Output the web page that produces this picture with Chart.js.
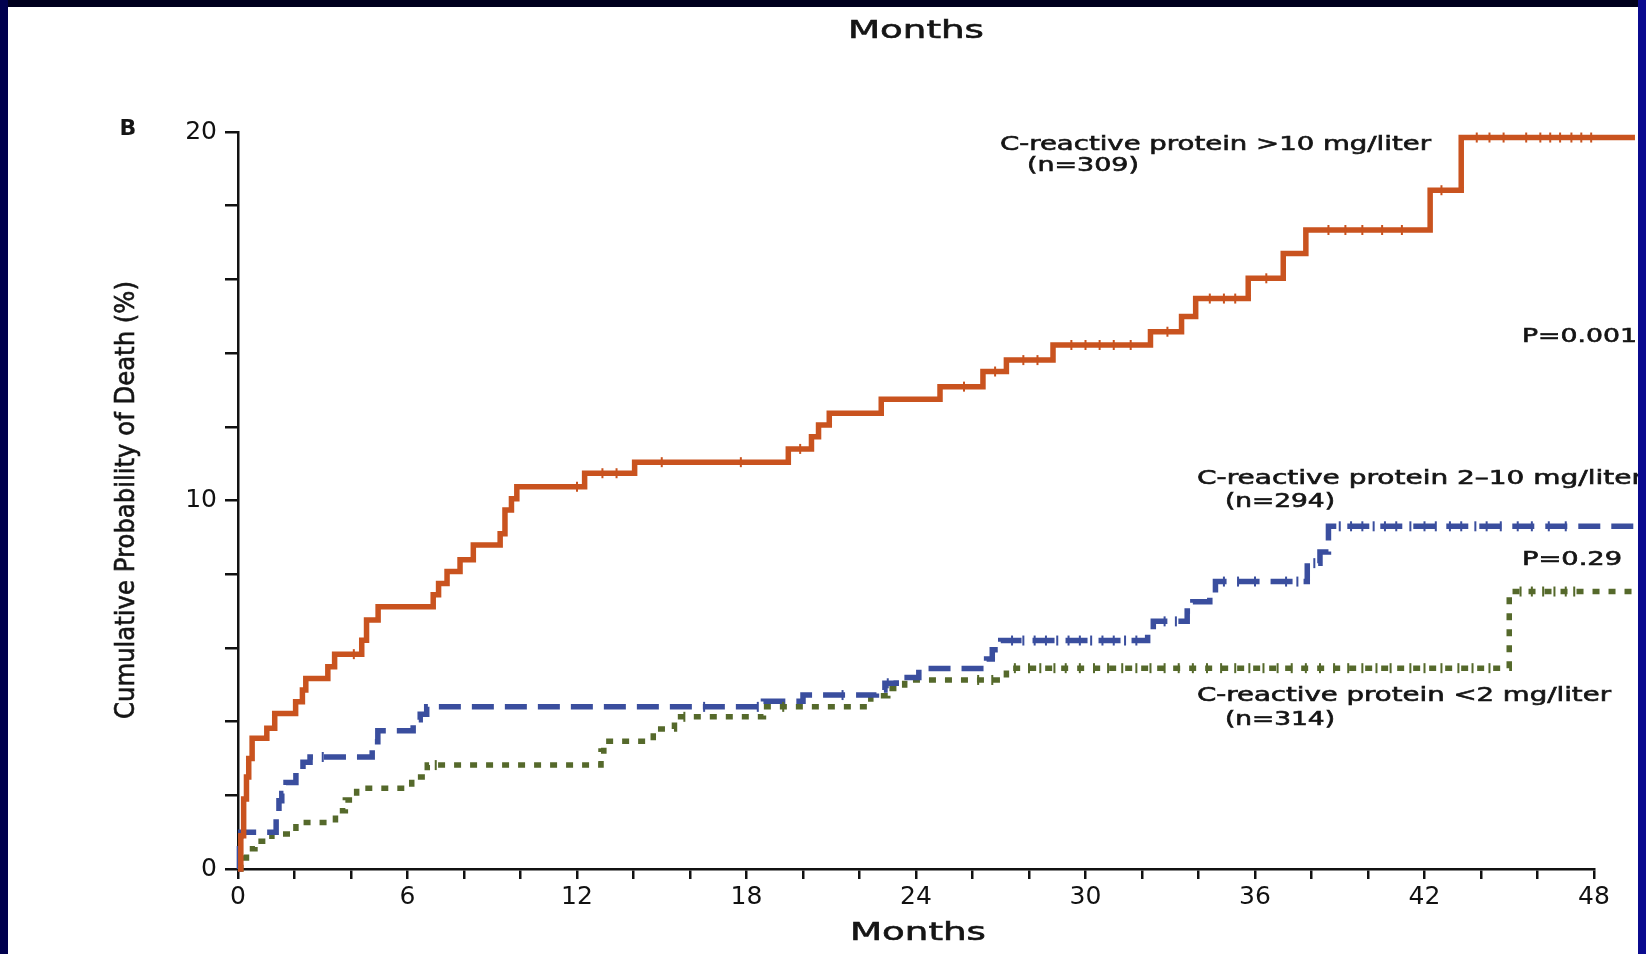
<!DOCTYPE html>
<html>
<head>
<meta charset="utf-8">
<script src="https://cdn.jsdelivr.net/npm/chart.js@4.4.1/dist/chart.umd.min.js"></script>
<style>
  html, body { margin: 0; padding: 0; background: #000040; overflow: hidden; }
  #wrap { position: relative; width: 1646px; height: 954px; }
</style>
</head>
<body>
<div id="wrap"><canvas id="myChart"></canvas></div>
<script>
// CRP > 10 mg/liter (n=309)
const highMonths = [0, 0.1, 0.2, 0.3, 0.38, 0.5, 1.02, 1.3, 2.04, 2.28, 2.4, 3.18, 3.42, 4.38, 4.55, 4.96,
  6.91, 7.1, 7.4, 7.86, 8.33, 9.28, 9.45, 9.68, 9.87, 12.27, 14.04, 19.48, 20.3, 20.55, 20.93, 22.77,
  24.85, 26.37, 27.2, 28.85, 32.3, 33.4, 33.9, 35.76, 37.0, 37.8, 42.2, 43.3, 49.45];
const highRisk = [0, 0.9, 1.9, 2.5, 3.0, 3.55, 3.82, 4.22, 4.54, 4.86, 5.17, 5.49, 5.83, 6.21, 6.76, 7.12,
  7.44, 7.75, 8.07, 8.39, 8.79, 9.1, 9.74, 10.05, 10.37, 10.74, 11.04, 11.4, 11.73, 12.05, 12.37, 12.75,
  13.09, 13.5, 13.81, 14.22, 14.58, 14.99, 15.48, 16.03, 16.7, 17.34, 18.42, 19.85, 19.85];
const highCensored = [4.1, 12.0, 12.9, 13.4, 15.0, 17.8, 19.9, 25.7, 26.8, 27.8, 28.3, 29.5, 30.0, 30.5,
  31.0, 31.6, 32.9, 34.4, 34.9, 35.3, 36.4, 38.6, 39.2, 39.8, 40.5, 41.2, 42.6, 43.85, 44.3, 44.8, 45.6,
  46.1, 46.45, 46.8, 47.2, 47.55, 47.9];

// CRP 2-10 mg/liter (n=294)
const midMonths = [0, 0.05, 0.1, 1.35, 1.45, 1.55, 1.7, 2.05, 2.3, 2.55, 4.75, 4.95, 6.2, 6.45, 6.68,
  18.6, 20.0, 22.6, 22.9, 23.3, 24.1, 26.5, 26.7, 27.0, 32.2, 32.4, 33.6, 33.8, 34.4, 34.6, 37.85, 38.3,
  38.6, 49.4];
const midRisk = [0, 0.55, 1.0, 1.45, 1.85, 2.05, 2.35, 2.65, 2.9, 3.04, 3.45, 3.75, 4.05, 4.2, 4.4,
  4.55, 4.72, 4.86, 5.04, 5.2, 5.44, 5.7, 5.95, 6.2, 6.5, 6.72, 7.0, 7.25, 7.5, 7.8, 8.3, 8.6,
  9.3, 9.3];
const midCensored = [3.0, 16.5, 18.4, 21.4, 23.0, 27.4, 27.8, 28.2, 28.6, 29.0, 29.4, 29.8, 30.2, 30.6,
  31.0, 31.4, 31.8, 32.8, 33.2, 34.9, 35.4, 36.0, 37.1, 37.5, 38.1, 39.0, 39.4, 39.8, 40.2, 40.6, 41.0,
  41.5, 42.0, 42.4, 42.9, 43.3, 43.8, 44.2, 44.7, 45.3, 45.8, 46.4, 47.0];

// CRP < 2 mg/liter (n=314)
const lowMonths = [0, 0.1, 0.3, 0.6, 1.2, 2.05, 3.45, 3.8, 4.2, 6.15, 6.7, 12.85, 12.95, 14.7, 15.45,
  18.6, 22.4, 23.0, 23.6, 27.2, 45.0, 49.4];
const lowRisk = [0, 0.3, 0.55, 0.75, 0.95, 1.26, 1.58, 1.87, 2.19, 2.5, 2.82, 3.2, 3.47, 3.8, 4.13,
  4.4, 4.7, 4.9, 5.13, 5.45, 7.53, 7.53];
const lowCensored = [7.0, 15.8, 19.3, 26.2, 26.7, 27.5, 28.0, 28.4, 28.9, 29.3, 29.8, 30.3, 30.8, 31.3,
  31.8, 32.3, 32.8, 33.3, 33.8, 34.3, 34.8, 35.3, 35.8, 36.3, 36.8, 37.3, 37.8, 38.3, 38.8, 39.3, 39.8,
  40.3, 40.8, 41.5, 42.0, 42.6, 43.2, 43.7, 44.3, 45.4, 45.8, 46.2, 46.6, 47.0, 47.3];

const monthTicks = [0, 6, 12, 18, 24, 30, 36, 42, 48];
const riskTicks = [0, 10, 20];

const RED = '#c9531f';
const BLUE = '#3a4e9e';
const GREEN = '#55692b';

function toPoints(xs, ys) {
  return xs.map((x, i) => ({ x: x, y: ys[i] }));
}

// censored cases sit on the curve at their month
function onCurve(censored, xs, ys) {
  return censored.map(t => {
    let v = ys[0];
    for (let i = 0; i < xs.length; i++) {
      if (xs[i] <= t) v = ys[i];
    }
    return { x: t, y: v };
  });
}

function curve(label, xs, ys, color, dash) {
  return {
    label: label,
    data: toPoints(xs, ys),
    borderColor: color,
    borderWidth: 5.5,
    borderDash: dash,
    borderCapStyle: 'butt',
    stepped: 'before',
    pointRadius: 0,
    fill: false,
    clip: false
  };
}

function marks(label, censored, xs, ys, color) {
  return {
    label: label,
    data: onCurve(censored, xs, ys),
    showLine: false,
    pointStyle: 'line',
    rotation: 90,
    pointRadius: 5,
    pointBorderWidth: 2,
    pointBorderColor: color,
    pointBackgroundColor: color,
    clip: false
  };
}

const texts = [
  { text: 'B', x: 128, y: 129, size: 22, weight: 'bold', align: 'center' },
  { text: 'Months', x: 916, y: 31, size: 25, width: 136, align: 'center' },
  { text: 'Months', x: 918, y: 933, size: 25, width: 136, align: 'center' },
  { text: 'Cumulative Probability of Death (%)', x: 127, y: 500, size: 26, width: 438, align: 'center', rotate: -Math.PI / 2 },
  { text: 'C-reactive protein >10 mg/liter', x: 1000, y: 145, size: 19, width: 431 },
  { text: '(n=309)', x: 1027, y: 166, size: 19, width: 112 },
  { text: 'P=0.001', x: 1522, y: 337, size: 19, width: 115 },
  { text: 'C-reactive protein 2\u201310 mg/liter', x: 1197, y: 479, size: 19, width: 446 },
  { text: '(n=294)', x: 1225, y: 502, size: 19, width: 110 },
  { text: 'P=0.29', x: 1522, y: 560, size: 19, width: 100 },
  { text: 'C-reactive protein <2 mg/liter', x: 1197, y: 696, size: 19, width: 414 },
  { text: '(n=314)', x: 1225, y: 720, size: 19, width: 110 }
];

function drawText(ctx, t) {
  ctx.save();
  ctx.font = (t.weight || 'normal') + ' ' + t.size + 'px "DejaVu Sans"';
  const w = ctx.measureText(t.text).width;
  const sx = t.width ? t.width / w : 1;
  ctx.translate(t.x, t.y);
  if (t.rotate) ctx.rotate(t.rotate);
  ctx.scale(sx, 1);
  ctx.textAlign = t.align || 'left';
  ctx.textBaseline = 'middle';
  ctx.fillStyle = '#151515';
  ctx.strokeStyle = '#151515';
  ctx.lineWidth = 0.6;
  ctx.fillText(t.text, 0, 0);
  if (!t.weight) ctx.strokeText(t.text, 0, 0);
  ctx.restore();
}

function drawBorders(ctx, w, h) {
  ctx.fillStyle = '#00001e';
  ctx.fillRect(0, 0, w, 7);
  ctx.fillStyle = '#00004e';
  ctx.fillRect(0, 0, 8, h);
  ctx.fillStyle = '#0b0b8f';
  ctx.fillRect(1638, 0, w - 1638, h);
}

const framePlugin = {
  id: 'frame',
  beforeDraw(chart) {
    const ctx = chart.ctx;
    ctx.save();
    ctx.fillStyle = '#ffffff';
    ctx.fillRect(0, 0, chart.width, chart.height);
    ctx.restore();
  },
  afterDraw(chart) {
    const ctx = chart.ctx;
    texts.forEach(t => drawText(ctx, t));
    ctx.save();
    drawBorders(ctx, chart.width, chart.height);
    ctx.restore();
  }
};

const axisFont = { family: '"DejaVu Sans"', size: 25 };

new Chart(document.getElementById('myChart'), {
  type: 'line',
  data: {
    datasets: [
      marks('censored >10', highCensored, highMonths, highRisk, RED),
      marks('censored 2-10', midCensored, midMonths, midRisk, BLUE),
      marks('censored <2', lowCensored, lowMonths, lowRisk, GREEN),
      curve('C-reactive protein >10 mg/liter', highMonths, highRisk, RED, []),
      curve('C-reactive protein 2-10 mg/liter', midMonths, midRisk, BLUE, [22, 11]),
      curve('C-reactive protein <2 mg/liter', lowMonths, lowRisk, GREEN, [7, 9])
    ]
  },
  options: {
    responsive: true,
    maintainAspectRatio: false,
    animation: false,
    layout: { padding: { top: 132, right: 52, bottom: 0, left: 0 } },
    plugins: {
      legend: { display: false },
      tooltip: { enabled: false }
    },
    scales: {
      x: {
        type: 'linear',
        min: 0,
        max: 48,
        afterFit: (scale) => { scale.height = 85; },
        border: { display: true, color: '#111', width: 2.5 },
        grid: { drawOnChartArea: false, drawTicks: true, tickLength: 10, color: '#111', lineWidth: 2.5 },
        ticks: {
          stepSize: 2,
          autoSkip: false,
          maxRotation: 0,
          padding: 3,
          color: '#111',
          font: axisFont,
          callback: (v) => monthTicks.includes(v) ? v : ''
        }
      },
      y: {
        min: 0,
        max: 20,
        afterFit: (scale) => { scale.width = 238; },
        border: { display: true, color: '#111', width: 2.5 },
        grid: { drawOnChartArea: false, drawTicks: true, tickLength: 13, color: '#111', lineWidth: 2.5 },
        ticks: {
          stepSize: 2,
          padding: 8,
          color: '#111',
          font: axisFont,
          callback: (v) => riskTicks.includes(v) ? v : ''
        }
      }
    }
  },
  plugins: [framePlugin]
});
</script>
</body>
</html>
